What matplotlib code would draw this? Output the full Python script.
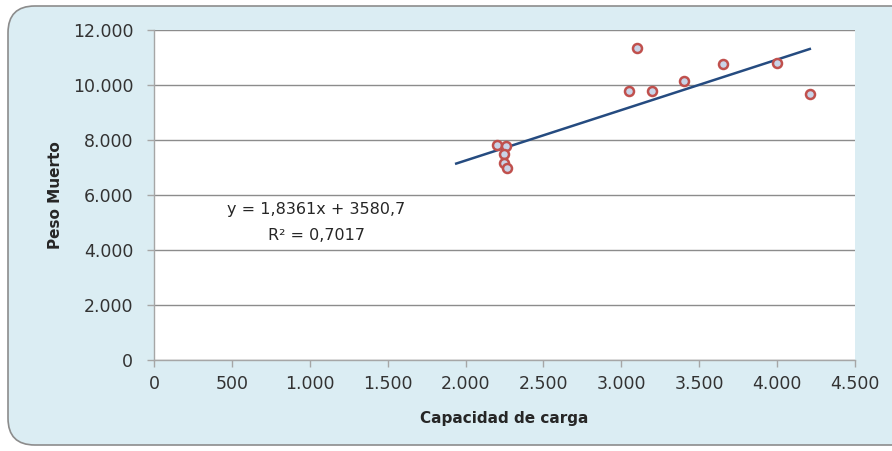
import matplotlib
matplotlib.use("Agg")
import matplotlib.pyplot as plt
from matplotlib.patches import FancyBboxPatch
import numpy as np

# Data
capacidad = [2200, 2260, 2245, 2245, 2265, 3050, 3100, 3200, 3400, 3650, 4000, 4210]
peso = [7820, 7800, 7500, 7150, 7000, 9780, 11350, 9780, 10150, 10760, 10800, 9670]
slope = 1.8361
intercept = 3580.7
trend_x = [1940, 4210]
x_ticks = [0, 500, 1000, 1500, 2000, 2500, 3000, 3500, 4000, 4500]
y_ticks = [0, 2000, 4000, 6000, 8000, 10000, 12000]

def fmt(v):
    return f"{v:,.0f}".replace(",", ".")

fig = plt.figure(figsize=(8.92, 4.51), dpi=100)
fig.patch.set_facecolor("white")

# rounded background
bg = FancyBboxPatch((8/892, 6/451), 910/892, 439/451,
                    boxstyle="round,pad=0,rounding_size=0.03",
                    transform=fig.transFigure, facecolor="#dbedf3",
                    edgecolor="#8c8c8c", linewidth=1.2, mutation_aspect=892/451,
                    zorder=-10)
fig.add_artist(bg)

ax = fig.add_axes([154/892, 1-360/451, (855-154)/892, (360-30)/451])
ax.set_facecolor("white")
ax.set_zorder(1)

tx = np.array(trend_x, dtype=float)
ax.plot(tx, slope*tx + intercept, color="#254b80", linewidth=1.8, zorder=3)
ax.scatter(capacidad, peso, s=42, facecolor="#c9d4e8", edgecolor="#c0504d",
           linewidth=1.8, zorder=4)

ax.set_xlim(0, 4500)
ax.set_ylim(0, 12000)
ax.set_xticks(x_ticks)
ax.set_yticks(y_ticks)
ax.set_xticklabels([fmt(v) for v in x_ticks])
ax.set_yticklabels([fmt(v) for v in y_ticks])
ax.yaxis.grid(True, color="#8c8c8c", linewidth=1.0)
ax.set_axisbelow(True)
for s in ["top", "right"]:
    ax.spines[s].set_visible(False)
for s in ["left", "bottom"]:
    ax.spines[s].set_color("#a6a6a6")
    ax.spines[s].set_linewidth(1.0)
ax.tick_params(axis="both", colors="#a6a6a6", length=5, width=1.0,
               labelcolor="#333333", labelsize=12.5)
ax.tick_params(axis="x", pad=6)
ax.tick_params(axis="y", pad=10)

ax.set_xlabel("Capacidad de carga", fontsize=11, fontweight="bold",
              color="#262626", labelpad=13)
ax.set_ylabel("Peso Muerto", fontsize=11, fontweight="bold",
              color="#262626", labelpad=7)

fig.text(316/892, 1-210/451, "y = 1,8361x + 3580,7",
         fontsize=11.5, color="#262626", ha="center", va="center", zorder=5)
fig.text(316/892, 1-236/451, "R² = 0,7017",
         fontsize=11.5, color="#262626", ha="center", va="center", zorder=5)

fig.savefig("out.png", dpi=100, facecolor="white")
